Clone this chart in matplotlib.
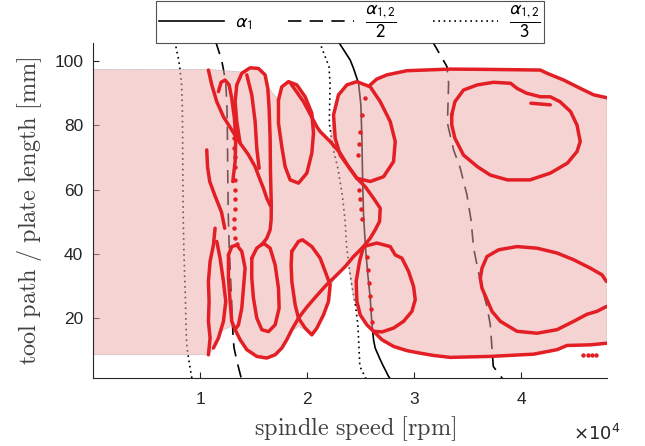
import matplotlib
matplotlib.use("Agg")
import matplotlib.pyplot as plt
from matplotlib.lines import Line2D
from matplotlib.font_manager import FontProperties
import numpy as np

plt.rcParams['mathtext.fontset'] = 'cm'

# ---------------- data ----------------
# stability boundary alpha_1 (solid) : spindle speed [rpm] vs tool path [mm]
alpha1_y = [106.0, 100.2, 97.6, 93.0, 86.3, 75.9, 63.0, 52.2, 41.8, 34.0, 26.3, 18.5, 13.4, 10.8, 7.2, 5.6, 2.0, 0.5]
alpha1_x = [22900, 24020, 24330, 24800, 25015, 25110, 25180, 25265, 25450, 25650, 25888, 26043, 26199, 26350, 26822, 27050, 27601, 27900]
# alpha_2 (only alpha_2/2 and alpha_2/3 fall inside the plotted range)
alpha2_y = [106.0, 98.2, 93.0, 86.3, 80.6, 72.3, 66.6, 58.3, 50.6, 41.8, 31.5, 23.7, 18.0, 10.8, 5.1, 1.5, 0.5]
alpha2_x = [63400, 66104, 66416, 66300, 66200, 67350, 68600, 69846, 70600, 71092, 72338, 73580, 74208, 74518, 74760, 76386, 77000]

# envelope of the measured region (shaded)
env_up_x = [0, 10800, 13900, 14700, 15450, 16100, 16450, 17300, 17650, 18250, 19000, 19800, 20900, 21215, 22150,
            22461, 22928, 23707, 24642, 25888, 27445, 29314, 33364, 41776, 42400, 43956, 45514, 46760, 48000]
env_up_y = [97.3, 97.3, 96.5, 97.8, 97.6, 95.6, 91.4, 87.8, 91.9, 93.5, 92.5, 88.8, 79.5, 78.0, 74.9,
            83.2, 89.4, 92.5, 93.5, 92.5, 95.9, 96.9, 97.4, 97.1, 96.1, 94.0, 91.4, 89.4, 88.5]
env_lo_x = [0, 10800, 11246, 11713, 12180, 12900, 13271, 13738, 14361, 15295, 16230, 17009, 17632, 18099, 18566,
            19189, 19812, 20435, 20905, 21525, 21993, 22148, 22617, 23551, 23863, 24330, 25109, 26199, 26978,
            28068, 29314, 30560, 31806, 33364, 37104, 41153, 43334, 44268, 46448, 48000]
env_lo_y = [8.7, 8.7, 10.8, 13.9, 16.5, 17.5, 16.5, 13.4, 10.3, 8.2, 7.7, 8.7, 10.8, 13.4, 16.0,
            17.5, 16.5, 14.9, 17.0, 21.1, 25.3, 29.5, 33.0, 36.1, 36.6, 26.3, 20.1, 16.0, 13.4,
            11.3, 10.0, 9.2, 8.5, 7.9, 8.2, 8.9, 10.3, 11.6, 11.8, 12.3]

# measured trajectories (red)
u1_x = [10779, 11090, 11557, 12180, 12959, 13738, 14517, 15140, 15607, 15918, 16230, 16560]
u1_y = [97.1, 92.5, 87.3, 82.6, 78.5, 74.4, 70.8, 67.1, 63.0, 60.4, 57.3, 55.0]
u2_x = [13738, 13426, 13271, 13426, 13894, 14672, 15451, 16074, 16323, 16448, 16541, 16573, 16650, 16635, 16541, 16230, 15763]
u2_y = [74.4, 81.1, 87.3, 92.5, 96.1, 97.8, 97.6, 95.6, 91.4, 85.2, 75.9, 65.6, 55.2, 50.6, 47.5, 44.9, 42.8]
u3_x = [14361, 14828, 15140, 15295, 15514]
u3_y = [95.6, 89.4, 81.1, 72.8, 66.6]
n1_x = [11713, 11962, 12336, 12710, 12959, 13208, 13333, 13271, 13053]
n1_y = [90.4, 93.3, 94.0, 92.5, 88.3, 82.1, 75.9, 68.7, 62.5]
lb0_x = [10622, 10700, 10900, 11400, 12000, 12300]
lb0_y = [72.3, 67.0, 62.5, 58.0, 53.0, 48.0]
lb1_x = [11402, 11246, 10934, 10779, 10841, 10779, 10934, 10779]
lb1_y = [48.0, 42.8, 37.7, 31.5, 25.3, 19.1, 13.9, 8.7]
lb2_x = [11557, 11869, 12180, 12398, 12180, 11713, 11246]
lb2_y = [43.9, 38.7, 31.5, 25.3, 19.1, 13.9, 10.8]
n2_x = [12648, 12959, 13426, 13894, 14205, 14050, 13894, 13582, 13271, 12959, 12804, 12648, 12648]
n2_y = [39.7, 42.3, 42.8, 40.8, 35.6, 29.4, 23.2, 18.0, 16.5, 19.1, 25.3, 32.5, 39.7]
lb_x = [14828, 15295, 15918, 16541, 17009, 17320, 17382, 17009, 16386, 15763, 15295, 14984, 14828, 14828]
lb_y = [38.7, 41.8, 43.4, 41.8, 36.6, 29.4, 23.2, 18.0, 15.9, 16.5, 20.1, 26.3, 32.5, 38.7]
lc_x = [18566, 19189, 19563, 20435, 21214, 21681, 22148, 21993, 21525, 20905, 20435, 19812, 19189, 18878, 18566, 18504, 18566]
lc_y = [40.8, 43.9, 44.4, 42.3, 38.7, 34.6, 30.4, 25.3, 21.1, 17.0, 14.9, 17.0, 20.1, 24.2, 31.5, 36.6, 40.8]
bcd_x = [13271, 13738, 14361, 15295, 16230, 17009, 17632, 18099, 18566, 19189, 19968, 20747, 21681, 22617, 23551, 24330, 25265]
bcd_y = [16.5, 13.4, 10.3, 8.2, 7.7, 8.7, 10.8, 13.4, 16.5, 20.1, 23.5, 26.5, 30.0, 33.0, 36.1, 39.2, 42.3]
la_x = [17320, 17631, 18254, 19033, 19812, 20435, 20591, 20435, 19968, 19189, 18410, 17943, 17631, 17320, 17320]
la_y = [87.8, 91.9, 93.5, 92.5, 88.8, 83.7, 77.5, 71.3, 65.1, 62.0, 63.0, 67.1, 73.3, 80.6, 87.8]
d1_x = [18410, 19656, 20902, 21215, 22150, 23084, 23863, 24642, 25420, 26199, 26822, 26760, 26355, 25888, 25265]
d1_y = [93.2, 87.3, 79.5, 78.0, 74.9, 71.3, 67.1, 63.5, 60.9, 57.3, 54.2, 50.1, 47.5, 44.9, 42.3]
mu_x = [24642, 23084, 22617, 22461, 22928, 23707, 24642, 25888, 26822, 27757, 28224, 28068, 27134, 25888, 24642]
mu_y = [63.5, 70.7, 75.9, 83.2, 89.4, 92.5, 93.5, 91.9, 87.3, 81.1, 74.9, 68.7, 64.0, 62.5, 63.5]
top_x = [25888, 26500, 27445, 29314, 33364, 37000, 41776, 42400, 43956, 45514, 46760, 48000]
top_y = [92.5, 94.3, 95.6, 96.9, 97.4, 97.3, 97.1, 96.1, 94.0, 91.4, 89.4, 88.5]
ml_x = [25265, 26511, 27757, 28224, 28847, 29470, 29937, 30093, 29782, 29004, 28068, 26978, 26199, 25576, 24953, 24642, 24579, 24891, 25265]
ml_y = [42.3, 43.4, 42.3, 39.7, 38.7, 34.6, 29.9, 25.8, 22.2, 19.1, 17.0, 15.8, 16.0, 18.0, 21.1, 25.3, 31.5, 37.7, 42.3]
bot_x = [26199, 26978, 28068, 29314, 30560, 31806, 33364, 37104, 41153, 43334, 44268, 46448, 48000]
bot_y = [16.0, 13.4, 11.3, 10.0, 9.2, 8.5, 7.9, 8.2, 8.9, 10.3, 11.6, 11.8, 12.3]
ru_x = [33500, 33800, 34600, 35900, 37400, 39000, 39600, 40500, 41800, 42700, 43600, 44600, 45200, 45500,
        45200, 44300, 42700, 40800, 38700, 37100, 35900, 34600, 33800, 33500, 33500]
ru_y = [83.2, 87.3, 90.9, 92.5, 93.3, 93.0, 91.4, 89.9, 88.8, 88.8, 87.3, 84.2, 80.0, 74.9,
        71.8, 68.2, 65.1, 63.0, 63.0, 64.5, 67.1, 70.7, 75.9, 80.1, 83.2]
rf_x = [40900, 42700]
rf_y = [86.8, 86.3]
rl_x = [47944, 47539, 46449, 44891, 43334, 41464, 39595, 37882, 36792, 36325, 36169, 36325, 36792, 37259,
        38038, 39595, 41464, 43334, 44891, 46137, 47071, 47944]
rl_y = [31.5, 33.5, 35.6, 38.2, 40.3, 41.8, 42.3, 41.3, 39.2, 35.6, 32.5, 29.4, 25.8, 22.2,
        19.1, 16.0, 15.4, 16.5, 19.1, 21.3, 22.2, 23.7]
# sparse sample points
sd1_x = [13150, 13200, 13250, 13280, 13300, 13300, 13280, 13250, 13200, 13150, 13300, 13450]
sd1_y = [76, 73, 70, 67, 63, 60, 57, 54, 51, 48, 45, 43]
sd2_x = [25420, 25109, 24953, 24850, 24704, 24800, 24900, 25000, 25100, 25576, 25700, 25800, 25888, 26000, 26100]
sd2_y = [88.3, 83.2, 78.0, 74.0, 70.7, 60.0, 57.0, 54.0, 51.0, 39.0, 35.0, 31.0, 27.0, 23.0, 19.0]
sd3_x = [45800, 46200, 46600, 47000]
sd3_y = [8.7, 8.7, 8.7, 8.7]

strokes = [(u1_x, u1_y), (u2_x, u2_y), (u3_x, u3_y), (n1_x, n1_y), (lb0_x, lb0_y), (lb1_x, lb1_y),
           (lb2_x, lb2_y), (n2_x, n2_y), (lb_x, lb_y), (lc_x, lc_y), (bcd_x, bcd_y), (la_x, la_y),
           (d1_x, d1_y), (mu_x, mu_y), (top_x, top_y), (ml_x, ml_y), (bot_x, bot_y), (ru_x, ru_y),
           (rf_x, rf_y), (rl_x, rl_y)]
sparse = [(sd1_x, sd1_y), (sd2_x, sd2_y), (sd3_x, sd3_y)]

xticks = [10000, 20000, 30000, 40000]
xtick_labels = ['1', '2', '3', '4']
yticks = [20, 40, 60, 80, 100]

# ---------------- figure ----------------
W, H = 645, 446
fig = plt.figure(figsize=(W / 100, H / 100), dpi=100)
ax = fig.add_axes([93 / W, 1 - 378 / H, (607 - 93) / W, (378 - 43) / H])

red = '#e31e24'
lc = '#262626'

a1x = np.array(alpha1_x, float)
a2x = np.array(alpha2_x, float)
ax.plot(a1x, alpha1_y, color='k', lw=1.2, zorder=1)
ax.plot(a1x / 2, alpha1_y, color='k', lw=1.2, dashes=(8, 5), zorder=1)
ax.plot(a2x / 2, alpha2_y, color='k', lw=1.2, dashes=(8, 5), zorder=1)
ax.plot(a1x / 3, alpha1_y, color='k', lw=1.2, dashes=(1, 2.2), zorder=1)
ax.plot(a2x / 3, alpha2_y, color='k', lw=1.2, dashes=(1, 2.2), zorder=1)

poly_x = list(env_up_x) + list(env_lo_x[::-1])
poly_y = list(env_up_y) + list(env_lo_y[::-1])
ax.fill(poly_x, poly_y, facecolor='#eda9a9', alpha=0.5, edgecolor='none', zorder=2)
ax.plot(poly_x + [poly_x[0]], poly_y + [poly_y[0]], color='#9a9a9a', lw=0.5, dashes=(1, 1.2), zorder=2)

for sx, sy in strokes:
    ax.plot(sx, sy, color=red, lw=2.5, solid_joinstyle='round', solid_capstyle='round', zorder=3)
for sx, sy in sparse:
    ax.plot(sx, sy, 'o', ms=3.2, color=red, mec='none', zorder=3)

ax.set_xlim(0, 48000)
ax.set_ylim(1.5, 105.5)
ax.set_xticks(xticks)
ax.set_xticklabels(xtick_labels)
ax.set_yticks(yticks)
for s in ['top', 'right']:
    ax.spines[s].set_visible(False)
for s in ['left', 'bottom']:
    ax.spines[s].set_color(lc)
    ax.spines[s].set_linewidth(0.8)
ax.tick_params(direction='in', length=4, width=0.8, color=lc, labelcolor=lc,
               labelsize=12.5)
ax.tick_params(axis='x', pad=10)
ax.tick_params(axis='y', pad=7)
for lab in ax.get_xticklabels() + ax.get_yticklabels():
    lab.set_fontfamily('Liberation Sans')

ax.set_xlabel(r'$\mathrm{spindle\ speed\ [rpm]}$', fontsize=17.5, color='#404040')
ax.xaxis.set_label_coords((355 - 93) / (607 - 93), -0.108)
ax.set_ylabel(r'$\mathrm{tool\ path\ /\ plate\ length\ [mm]}$', fontsize=17.5, color='#404040')
ax.yaxis.set_label_coords(-(93 - 44) / (607 - 93), 0.5)

fig.text(573 / W, 1 - 440 / H, r'$\times10^{4}$', fontsize=13, color=lc, math_fontfamily='dejavusans')

handles = [Line2D([], [], color='k', lw=1.2),
           Line2D([], [], color='k', lw=1.2, dashes=(8, 5)),
           Line2D([], [], color='k', lw=1.2, dashes=(1, 2.2))]
labels = [r'$\alpha_1$', r'$\dfrac{\alpha_{1,2}}{2}$', r'$\dfrac{\alpha_{1,2}}{3}$']
lp = FontProperties(size=13.5, math_fontfamily='stixsans')
leg = ax.legend(handles, labels, loc='lower center', bbox_to_anchor=(0.5, 1.0), borderaxespad=0,
                ncol=3, frameon=True, fancybox=False, prop=lp, handlelength=3.5,
                columnspacing=1.9, handletextpad=0.6, borderpad=0.15)
leg.get_frame().set_edgecolor(lc)
leg.get_frame().set_linewidth(0.8)

fig.savefig('out.png', dpi=100)
